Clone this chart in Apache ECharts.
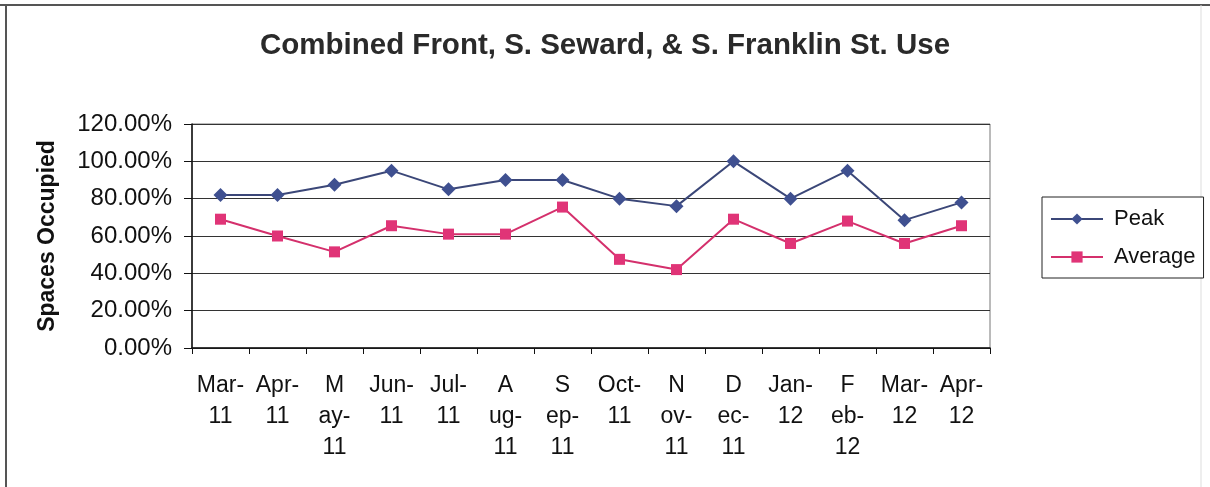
<!DOCTYPE html>
<html>
<head>
<meta charset="utf-8">
<script src="https://cdn.jsdelivr.net/npm/echarts@6/dist/echarts.min.js"></script>
<style>html,body{margin:0;padding:0;background:#fff;}#c{width:1210px;height:487px;}</style>
</head>
<body>
<div id="c"></div>
<script>
const categories = ["Mar-11","Apr-11","May-11","Jun-11","Jul-11","Aug-11","Sep-11","Oct-11","Nov-11","Dec-11","Jan-12","Feb-12","Mar-12","Apr-12"];
const tickLabels = ["Mar-\n11","Apr-\n11","M\nay-\n11","Jun-\n11","Jul-\n11","A\nug-\n11","S\nep-\n11","Oct-\n11","N\nov-\n11","D\nec-\n11","Jan-\n12","F\neb-\n12","Mar-\n12","Apr-\n12"];
const peak = [82, 82, 87.5, 95, 85, 90, 90, 80, 76, 100, 80, 95, 68.5, 78];
const average = [69, 60, 51.5, 65.5, 61, 61, 75.5, 47.5, 42, 69, 56, 68, 56, 65.5];

const FONT = '"Liberation Sans", Arial, sans-serif';
const chart = echarts.init(document.getElementById('c'), null, {renderer: 'canvas'});
chart.setOption({
  backgroundColor: '#fff',
  animation: false,
  title: {
    text: 'Combined Front, S. Seward, & S. Franklin St. Use',
    left: 'center', top: 31, itemGap: 0, padding: 0,
    textStyle: {fontFamily: FONT, fontSize: 29.5, fontWeight: 'bold', color: '#2a2a2a'}
  },
  graphic: [
    {type: 'line', silent: true, shape: {x1: 0, y1: 5, x2: 1210, y2: 5}, style: {stroke: '#555', lineWidth: 2}},
    {type: 'line', silent: true, shape: {x1: 6, y1: 5, x2: 6, y2: 487}, style: {stroke: '#555', lineWidth: 2}},
    {type: 'line', silent: true, shape: {x1: 1201, y1: 5, x2: 1201, y2: 487}, style: {stroke: '#ddd', lineWidth: 1}}
  ],
  legend: {
    orient: 'vertical', left: 1042, top: 197,
    data: ['Peak', 'Average'],
    itemWidth: 52, itemHeight: 14, itemGap: 16,
    padding: [11, 8, 10, 8],
    borderColor: '#222', borderWidth: 1,
    backgroundColor: '#fff',
    textStyle: {fontFamily: FONT, fontSize: 22, color: '#111', padding: [0, 0, 0, 6]}
  },
  grid: {
    left: 192, right: 220, top: 124, bottom: 139,
    show: true, borderColor: '#777', borderWidth: 1, containLabel: false
  },
  xAxis: {
    type: 'category', data: categories, boundaryGap: true,
    axisLine: {lineStyle: {color: '#111', width: 1.5}},
    axisTick: {show: true, length: 6, inside: false, lineStyle: {color: '#111'}},
    axisLabel: {
      interval: 0, margin: 22, lineHeight: 31,
      fontFamily: FONT, fontSize: 23, color: '#111', align: 'center', verticalAlign: 'top',
      formatter: (v, i) => tickLabels[i]
    }
  },
  yAxis: {
    type: 'value', min: 0, max: 120, interval: 20,
    name: 'Spaces Occupied', nameLocation: 'middle', nameGap: 133, nameRotate: 90,
    nameTextStyle: {fontFamily: FONT, fontSize: 23, fontWeight: 'bold', color: '#111'},
    axisLine: {show: true, lineStyle: {color: '#111', width: 1.5}},
    axisTick: {show: true, length: 8, lineStyle: {color: '#111'}},
    splitLine: {show: true, lineStyle: {color: '#333', width: 1.2}},
    axisLabel: {
      margin: 20, fontFamily: FONT, fontSize: 24, color: '#111',
      formatter: v => v.toFixed(2) + '%'
    }
  },
  series: [
    {
      name: 'Peak', type: 'line', data: peak,
      symbol: 'diamond', symbolSize: 14,
      lineStyle: {color: '#3b4778', width: 2},
      itemStyle: {color: '#3f5090'}
    },
    {
      name: 'Average', type: 'line', data: average,
      symbol: 'rect', symbolSize: 11,
      lineStyle: {color: '#d4306c', width: 2},
      itemStyle: {color: '#e03477'}
    }
  ]
});
</script>
</body>
</html>
